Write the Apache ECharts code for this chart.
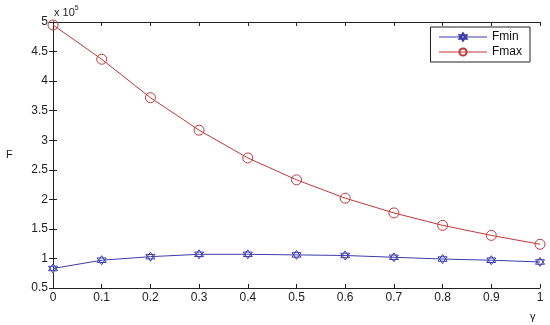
<!DOCTYPE html>
<html>
<head>
<meta charset="utf-8">
<script src="https://cdn.jsdelivr.net/npm/echarts@6/dist/echarts.min.js"></script>
<style>
html, body { margin: 0; padding: 0; background: #fff; }
#echarts { width: 550px; height: 325px; }
</style>
</head>
<body>
<div id="echarts"></div>
<script>
var gamma = [0, 0.1, 0.2, 0.3, 0.4, 0.5, 0.6, 0.7, 0.8, 0.9, 1.0];
var fmin = [83000, 97000, 103000, 107000, 107000, 106000, 105000, 102000, 99000, 97000, 94000];
var fmax = [495000, 437000, 372000, 317000, 270000, 233000, 202000, 177000, 156000, 139000, 124000];
var scale = 100000;

function pairs(ys) {
    return gamma.map(function (g, i) { return [g, ys[i]]; });
}

var hexagram = 'path://M0,-10L8.66,5L-8.66,5Z M0,10L8.66,-5L-8.66,-5Z';
var font = 'Liberation Sans';
var axisCol = '#222';

var myChart = echarts.init(document.getElementById('echarts')),
    option = {
        animation: false,
        textStyle: {fontFamily: font},
        grid: {
            left: 53,
            right: 10,
            top: 22,
            bottom: 37
        },
        legend: {
            right: 20,
            top: 27,
            orient: 'vertical',
            itemWidth: 48,
            itemHeight: 9,
            itemGap: 3,
            padding: [4, 8, 4, 8],
            borderColor: '#222',
            borderWidth: 1,
            borderRadius: 0,
            backgroundColor: '#fff',
            lineStyle: {width: 1},
            textStyle: {fontFamily: font, fontSize: 12, color: '#111'},
            data: ['Fmin', 'Fmax']
        },
        xAxis: [
            {
                type: 'value',
                min: 0,
                max: 1,
                interval: 0.1,
                axisLine: {lineStyle: {color: axisCol}},
                axisTick: {inside: true, length: 4, lineStyle: {color: axisCol}},
                axisLabel: {fontFamily: font, fontSize: 12, color: '#222', margin: 4},
                splitLine: {show: false}
            },
            {
                type: 'value',
                position: 'top',
                min: 0,
                max: 1,
                interval: 0.1,
                axisLine: {show: true, lineStyle: {color: axisCol}},
                axisTick: {show: true, inside: true, length: 4, lineStyle: {color: axisCol}},
                axisLabel: {show: false},
                splitLine: {show: false}
            }
        ],
        yAxis: [
            {
                type: 'value',
                min: 50000,
                max: 500000,
                interval: 50000,
                axisLine: {show: true, lineStyle: {color: axisCol}},
                axisTick: {show: true, inside: true, length: 4, lineStyle: {color: axisCol}},
                axisLabel: {
                    fontFamily: font, fontSize: 12, color: '#222', margin: 5,
                    formatter: function (v) { return String(+(v / scale).toFixed(1)); }
                },
                splitLine: {show: false}
            },
            {
                type: 'value',
                position: 'right',
                min: 50000,
                max: 500000,
                interval: 50000,
                axisLine: {show: true, lineStyle: {color: axisCol}},
                axisTick: {show: true, inside: true, length: 4, lineStyle: {color: axisCol}},
                axisLabel: {show: false},
                splitLine: {show: false}
            }
        ],
        graphic: [
            {
                type: 'text', left: 6, top: 149,
                style: {text: 'F', font: '11px "Liberation Sans"', fill: '#222'}
            },
            {
                type: 'text', left: 530, top: 311,
                style: {text: 'γ', font: '11px "Liberation Sans"', fill: '#222'}
            },
            {
                type: 'text', left: 54, top: 5,
                style: {
                    text: '{a|x 10}{b|5}',
                    rich: {
                        a: {fontFamily: font, fontSize: 11, fill: '#222'},
                        b: {fontFamily: font, fontSize: 7, fill: '#222', verticalAlign: 'top', padding: [0, 0, 8, 0]}
                    }
                }
            }
        ],
        series: [
            {
                name: 'Fmin',
                type: 'line',
                data: pairs(fmin),
                symbol: hexagram,
                symbolSize: 9,
                itemStyle: {color: '#fff', borderColor: '#3c3ca8', borderWidth: 1},
                lineStyle: {color: '#3c3ca8', width: 1}
            },
            {
                name: 'Fmax',
                type: 'line',
                data: pairs(fmax),
                symbol: 'circle',
                symbolSize: 10,
                itemStyle: {color: 'rgba(255,255,255,0)', borderColor: '#c03838', borderWidth: 1},
                lineStyle: {color: '#c03838', width: 1}
            }
        ]
    };

myChart.setOption(option);
</script>
</body>
</html>
